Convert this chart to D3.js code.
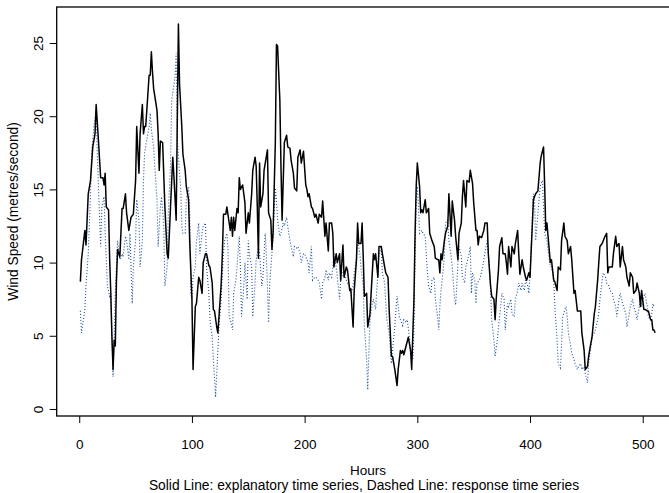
<!DOCTYPE html>
<html lang="en">
<head>
  <meta charset="UTF-8">
  <title>Wind speed time series</title>
  <script src="https://cdn.jsdelivr.net/npm/d3@7"></script>
  <style>
    body { margin: 0; background: #fff; }
    text { font-family: "Liberation Sans", Arial, Helvetica, sans-serif; fill: #000; }
  </style>
</head>
<body>
  <div id="chart"></div>
  <script>
    // explanatory series (solid line): hours and wind speed
    const solidHours = [1,2,5,6,8,10,12,14,15,17,19,21,22,23,24,26,27,28,29,30,31,32,33,34,36,38,39,41,42,44,46,48,50,51,53,54,56,57,58,59,62,63,
      64,65,66,69,70,71,72,74,76,78,79,81,83,84,86,88,89,91,92,94,95,97,98,100,101,103,104,106,107,109,110,112,113,115,116,118,119,120,122,123,124,126,127,128,130,131,
      134,135,136,137,138,140,141,142,143,145,147,148,150,151,153,154,156,157,158,159,160,161,163,164,167,168,170,171,172,174,175,176,178,179,180,182,184,185,187,188,190,191,193,194,196,197,199,201,202,
      203,204,206,207,209,210,212,213,215,216,218,219,221,222,224,225,226,228,229,231,232,234,235,237,238,240,241,243,244,246,247,248,250,251,252,253,255,256,258,259,261,262,263,265,266,268,269,271,
      272,274,275,277,278,280,282,283,285,286,287,288,290,292,294,295,297,298,299,300,302,303,304,305,307,308,310,311,313,315,316,318,319,320,321,322,324,325,327,328,330,331,333,334,336,337,339,340,
      341,343,344,346,347,349,350,352,353,354,355,357,359,360,362,363,365,366,368,369,370,372,373,375,376,378,379,380,381,383,384,386,387,389,390,391,393,394,396,397,399,400,402,403,405,407,409,410,412,
      413,414,415,417,418,419,421,422,424,425,427,428,430,431,433,434,436,437,439,440,442,445,446,448,449,451,452,454,455,457,458,460,461,462,
      464,466,468,469,470,473,474,476,477,479,480,482,483,485,486,488,489,491,492,494,495,497,498,499,501,502,504,505,507,508,509,510,511];
    const solidSpeed = [8.7,10.2,12.2,11.2,14.7,15.6,17.9,18.8,20.8,18.4,15.8,15.8,15.3,16.1,13.8,13.6,10.2,7.9,4.9,2.7,4.7,4.3,8.7,10.9,10.4,13.7,13.7,14.7,13.4,12.2,13.1,13.3,15.6,19.3,16.1,18.8,20.8,18.8,19.3,19.3,22.8,22.8,
      24.4,23.0,21.9,20.4,18.8,16.3,18.3,18.2,13.8,10.6,10.3,13.8,17.2,15.9,12.9,26.3,22.2,19.3,17.4,16.3,15.2,14.3,11.5,7.5,2.7,7.0,7.2,9.0,8.8,7.9,10.0,10.6,10.6,9.8,9.7,8.6,6.8,6.7,5.6,5.2,6.3,8.6,10.6,13.3,13.3,13.8,
      12.2,13.1,11.8,13.1,12.2,13.7,13.4,15.8,15.0,15.3,14.1,12.0,13.4,12.7,14.7,16.3,17.2,16.6,13.8,10.3,16.8,13.8,14.7,16.3,17.7,13.4,12.9,10.9,12.0,18.2,24.9,24.8,21.1,16.6,12.9,18.2,18.7,17.9,17.8,17.0,16.1,15.1,14.9,17.2,17.7,16.8,17.6,15.3,15.0,
      14.5,14.7,13.8,13.7,13.1,13.3,12.7,13.3,13.1,14.2,11.8,12.7,10.8,12.7,12.7,12.0,9.7,10.6,10.0,10.6,8.8,11.2,9.0,9.7,9.5,8.1,8.2,5.6,8.1,10.2,12.7,11.3,11.3,12.7,10.4,7.7,7.9,5.6,6.5,7.9,10.6,10.2,10.6,9.0,11.1,11.1,10.6,9.7,
      9.3,9.0,6.8,3.6,3.6,2.7,1.6,2.7,4.0,3.8,4.0,3.7,4.3,4.9,4.0,2.7,7.5,12.0,15.2,16.8,15.2,13.4,13.6,13.4,14.3,13.4,13.7,12.0,11.5,11.1,10.3,10.2,10.2,9.3,10.6,10.2,11.5,12.0,12.5,14.7,11.8,14.2,12.9,11.8,10.2,12.0,12.7,14.5,
      15.6,13.8,15.6,15.5,16.3,15.4,14.1,12.2,12.2,11.2,11.8,11.7,12.2,12.7,12.7,10.6,8.4,7.7,7.5,6.1,7.5,9.5,11.1,11.7,10.6,10.6,10.0,9.2,11.1,9.7,11.1,10.6,11.3,12.2,10.6,9.2,10.2,9.7,9.0,8.8,9.3,9.0,12.5,14.3,14.7,14.9,16.8,17.3,17.9,
      15.2,12.2,12.7,10.9,10.0,10.2,8.8,8.7,8.1,9.7,9.5,11.5,12.7,11.8,11.5,10.6,11.1,10.2,7.9,8.1,6.7,6.7,5.2,4.0,2.7,2.9,3.6,4.5,4.9,6.5,7.0,8.8,10.0,11.1,
      11.3,11.7,12.0,9.3,9.7,9.7,10.6,11.8,11.1,11.3,9.7,11.1,10.2,9.7,9.0,8.4,9.3,9.0,7.9,8.1,8.6,7.9,7.0,8.1,6.8,6.8,6.7,6.7,6.1,6.1,5.4,5.4,5.2];

    // response series (dotted line)
    const dottedHours = [1,2,5,6,8,10,11,13,15,16,18,19,20,22,23,25,27,28,29,30,31,32,34,36,38,39,41,42,44,45,47,48,50,51,53,54,56,57,58,60,62,63,
      64,66,67,69,70,72,73,75,76,78,79,81,82,83,85,86,87,89,90,91,92,94,95,97,98,99,100,101,103,104,106,107,109,110,112,113,115,116,118,119,120,121,122,124,126,127,128,129,131,132,133,
      134,136,137,139,140,142,143,144,146,147,149,150,151,153,154,156,157,159,160,162,163,165,166,168,169,171,172,174,175,176,178,179,181,182,184,185,187,188,190,191,193,194,196,197,199,200,202,
      203,204,206,207,209,210,212,213,215,216,218,219,221,222,224,225,226,228,229,231,232,234,235,237,238,240,241,243,244,246,247,249,250,252,253,255,256,257,258,260,261,263,264,265,266,268,269,271,272,
      273,275,277,278,280,281,282,284,285,287,288,290,291,293,294,296,297,298,299,300,301,302,304,305,307,308,309,310,312,313,315,316,318,319,320,321,322,324,325,327,328,330,331,333,334,335,336,337,339,340,342,
      343,344,346,347,348,349,351,352,353,355,356,358,359,361,362,364,365,366,368,369,371,372,374,375,377,378,380,381,383,384,386,387,389,390,392,393,395,396,398,399,400,402,403,404,405,407,408,409,411,
      412,413,415,416,418,419,421,422,424,425,427,428,429,431,432,433,434,436,437,439,440,442,443,445,446,448,449,451,452,454,455,457,458,460,461,462,464,465,467,468,470,471,473,474,476,477,479,480,
      482,483,485,486,488,489,491,492,494,495,497,498,499,501,502,504,505,507,508,509,510];
    const dottedSpeed = [6.7,5.2,6.8,8.4,10.6,14.7,17.5,19.3,20.4,17.5,13.1,11.1,13.8,14.5,12.0,8.4,7.7,7.9,5.2,2.2,4.9,8.1,11.5,10.2,10.6,10.4,11.8,11.5,10.2,12.0,7.2,9.7,11.5,14.3,12.9,9.7,11.5,15.6,17.5,18.4,19.3,20.2,
      19.1,17.9,16.6,14.3,11.1,13.8,14.5,12.5,8.4,9.7,13.4,16.6,21.1,21.6,22.7,24.3,18.4,16.1,15.2,12.5,12.0,12.0,14.3,15.2,13.4,7.9,7.5,9.0,9.7,11.5,12.7,10.6,12.0,12.5,12.7,9.7,7.9,6.1,4.9,3.4,2.2,0.8,2.4,5.6,7.5,9.3,10.6,11.5,12.0,10.9,6.3,
      6.1,5.4,7.9,8.8,9.7,11.8,9.7,6.3,8.4,10.0,7.5,11.5,10.6,9.7,6.3,8.6,10.2,11.1,10.6,8.4,9.0,12.0,10.6,5.9,8.6,10.6,12.0,15.1,14.3,12.9,11.8,12.0,12.7,12.5,13.1,12.5,11.5,11.1,10.4,11.1,11.0,11.1,10.6,10.0,10.6,10.6,10.2,
      10.0,9.3,11.1,8.8,9.0,9.0,8.8,8.6,7.5,8.6,9.0,9.5,8.8,9.3,9.0,9.7,10.6,9.7,9.0,7.5,8.8,9.3,9.3,8.8,8.6,8.4,7.9,8.4,9.3,10.2,11.5,10.6,9.7,8.4,5.6,3.4,1.3,3.8,6.1,7.2,7.5,6.8,8.1,9.3,10.6,11.1,9.3,8.6,7.2,
      6.1,5.2,3.1,4.0,5.6,6.8,7.7,6.3,6.1,5.7,6.1,5.9,6.1,4.9,3.8,3.4,5.6,10.6,14.3,15.2,13.8,12.0,12.2,12.0,11.8,10.4,9.3,8.4,7.9,8.8,9.0,7.5,6.3,5.4,7.0,8.1,8.8,10.4,12.7,12.9,11.5,10.4,9.7,7.5,7.1,8.4,10.0,11.1,10.4,9.0,8.6,
      9.7,10.0,10.6,11.1,7.9,9.3,8.8,7.2,8.6,8.8,9.0,9.7,10.2,11.1,11.5,9.7,8.1,6.1,4.7,3.6,4.7,5.6,7.0,7.9,7.5,5.4,7.2,7.0,7.5,6.5,6.3,7.5,8.1,8.6,8.1,8.6,8.1,8.8,8.4,7.9,9.3,12.9,14.7,14.3,11.5,13.4,14.3,15.2,15.6,
      13.8,12.0,11.5,10.9,9.7,9.7,9.0,7.0,4.7,3.1,2.8,4.5,6.3,6.8,7.0,6.3,5.2,4.3,3.8,3.4,3.1,2.7,2.9,3.1,2.7,2.9,2.4,1.8,3.1,4.3,4.9,5.2,5.4,6.1,6.5,7.5,8.8,9.3,9.0,8.6,8.4,8.1,7.9,7.5,7.0,6.3,7.5,7.9,
      7.2,7.0,6.5,5.6,6.5,7.0,7.5,7.0,6.5,6.1,7.0,7.5,7.0,7.7,7.9,7.0,6.3,6.1,6.5,7.2,7.0];

    const xTicks = [0, 100, 200, 300, 400, 500];
    const yTicks = [0, 5, 10, 15, 20, 25];

    const solid = solidHours.map((h, i) => ({ h, v: solidSpeed[i] }));
    const dotted = dottedHours.map((h, i) => ({ h, v: dottedSpeed[i] }));

    const W = 669, H = 493;
    const plot = { left: 56.7, right: 678.9, top: 7, bottom: 416 };

    const svg = d3.select("#chart").append("svg")
      .attr("width", W)
      .attr("height", H);

    // R style: 4% padding round the data range
    const x = d3.scaleLinear().domain([-20, 532.1]).range([plot.left, plot.right]);
    const y = d3.scaleLinear().domain([-0.48, 27.46]).range([plot.bottom, plot.top]);

    const line = d3.line().x(d => x(d.h)).y(d => y(d.v));

    svg.append("defs").append("clipPath").attr("id", "clip")
      .append("rect")
        .attr("x", plot.left).attr("y", plot.top)
        .attr("width", plot.right - plot.left).attr("height", plot.bottom - plot.top);

    const g = svg.append("g").attr("clip-path", "url(#clip)");

    g.append("path")
      .datum(dotted)
      .attr("fill", "none")
      .attr("stroke", "#1d4f9e")
      .attr("stroke-width", 1.1)
      .attr("stroke-dasharray", "1,2")
      .attr("d", line);

    g.append("path")
      .datum(solid)
      .attr("fill", "none")
      .attr("stroke", "#000")
      .attr("stroke-width", 1.5)
      .attr("stroke-linejoin", "round")
      .attr("d", line);

    // box
    svg.append("rect")
      .attr("x", plot.left).attr("y", plot.top)
      .attr("width", plot.right - plot.left).attr("height", plot.bottom - plot.top)
      .attr("fill", "none")
      .attr("stroke", "#000")
      .attr("stroke-width", 1.3);

    // x axis
    const xAxis = svg.append("g")
      .attr("transform", `translate(0,${plot.bottom})`)
      .call(d3.axisBottom(x).tickValues(xTicks).tickSize(7).tickPadding(16).tickSizeOuter(0));
    xAxis.select(".domain").remove();
    xAxis.selectAll("line").attr("stroke", "#000");
    xAxis.selectAll("text").style("font-size", "13.5px").attr("fill", "#000");

    // y axis, labels parallel to the axis as in R
    const yAxis = svg.append("g")
      .attr("transform", `translate(${plot.left},0)`)
      .call(d3.axisLeft(y).tickValues(yTicks).tickSize(7).tickSizeOuter(0));
    yAxis.select(".domain").remove();
    yAxis.selectAll("line").attr("stroke", "#000");
    yAxis.selectAll("text")
      .attr("x", null).attr("dy", null)
      .attr("text-anchor", "middle")
      .attr("transform", "translate(-14,0) rotate(-90)")
      .style("font-size", "13.5px")
      .attr("fill", "#000");

    svg.append("text")
      .attr("x", 368).attr("y", 474.5)
      .attr("text-anchor", "middle")
      .style("font-size", "13.5px")
      .text("Hours");

    svg.append("text")
      .attr("x", 364).attr("y", 490)
      .attr("text-anchor", "middle")
      .style("font-size", "13.8px")
      .text("Solid Line: explanatory time series, Dashed Line: response time series");

    svg.append("text")
      .attr("transform", `translate(18,${(plot.top + plot.bottom) / 2}) rotate(-90)`)
      .attr("text-anchor", "middle")
      .style("font-size", "13.8px")
      .text("Wind Speed (metres/second)");
  </script>
</body>
</html>
